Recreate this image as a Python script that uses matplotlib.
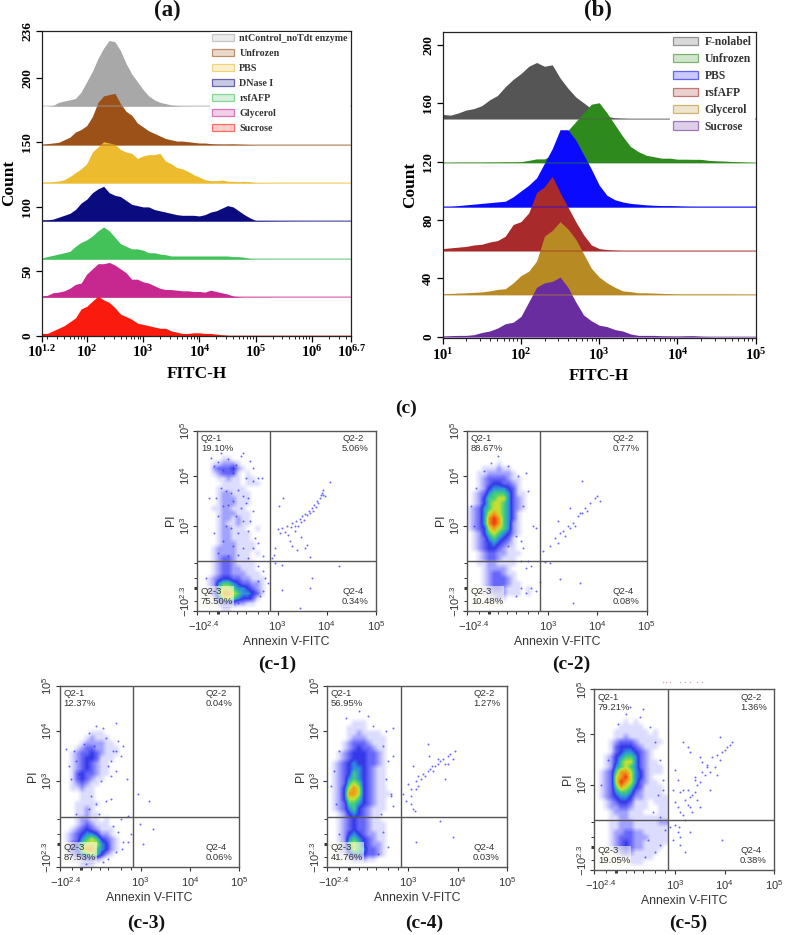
"""
Flow cytometry figure: FITC-H histograms (a, b) and Annexin V / PI quadrant plots (c-1 to c-5)
"""

import matplotlib
matplotlib.use('Agg')

import matplotlib.pyplot as plt
import numpy as np
from matplotlib.colors import LinearSegmentedColormap, to_rgba
from matplotlib.patches import Patch
from matplotlib.transforms import ScaledTranslation

plt.rcParams['mathtext.default'] = 'regular'
SERIF = 'Liberation Serif'
SANS = 'Liberation Sans'

# Panel (a) histograms, log10(FITC-H) bins and counts above each baseline
bins_a = [1.2, 1.3, 1.4, 1.5, 1.6, 1.7, 1.8, 1.9, 2.0, 2.1, 2.2, 2.3, 2.4, 2.5, 2.6, 2.7, 2.8, 2.9, 3.0, 3.1,
          3.2, 3.3, 3.4, 3.5, 3.6, 3.7, 3.8, 3.9, 4.0, 4.1, 4.2, 4.3, 4.4, 4.5, 4.6, 4.7, 4.8, 4.9, 5.0,
          5.5, 6.0, 6.7]
names_a = ['ntControl_noTdt enzyme', 'Unfrozen', 'PBS', 'DNase I', 'rsfAFP', 'Glycerol', 'Sucrose']
colors_a = ['#a8a8a8', '#9c5118', '#ecbc2e', '#0b0b80', '#43c25a', '#c6288f', '#fb1b0e']
baselines_a = [178, 148, 118.5, 89, 59.5, 30, 0]
control_a = [0, 0, .5, 3, 4, 5, 6, 11, 19, 27, 37, 45, 51, 50, 43, 33, 25, 19, 13, 8, 5, 3, 2, 1, .5, .3,
             .2, .2, .2, .2, .2, .2, .2, .2, .2, .2, .2, .2, .2, .2, .2, .2]
unfrozen_a = [.5, 1, 1.5, 2, 4, 6, 10, 12, 15, 22, 33, 38, 39, 40, 32, 26, 23, 17, 14, 11, 9, 7, 5, 4, 3, 3,
              2.5, 2, 1.5, 1.5, 1, .8, .7, .7, .8, .6, .5, .3, .2, .2, .2, .2]
pbs_a = [.5, .8, 1, 1.5, 2.5, 5, 8, 11, 15, 24, 28, 32, 31, 30, 26, 24, 23, 19, 21, 22, 22, 23, 17, 15, 12, 11,
         9, 6.5, 4.6, 2.6, 1.8, 1.8, 2.3, 1.5, 1.3, 1, 1.3, 1, .3, .2, .2, .2]
dnase_a = [1, 1, 1.5, 3, 4.5, 6, 9, 14, 17, 22, 25, 27, 22, 20, 19, 16, 13, 12, 11, 11, 9, 8, 7, 6, 5, 4.5,
           4.5, 4.5, 4, 5, 7, 8, 10, 12, 11, 8, 5, 2.5, .5, .3, .2, .2]
rsfafp_a = [1, 2, 3, 4, 5, 6, 10, 13, 15, 18, 22, 25, 22, 17, 12, 10, 8, 8, 7, 5, 5, 4, 3.5, 2.5, 2.5, 2.5,
            2.5, 2.5, 2.5, 2.5, 2.5, 2.5, 2.5, 2.5, 2, 2, 1.5, .5, .3, .2, .2, .2]
glycerol_a = [1, 1.5, 3.5, 4, 5, 7, 10, 11, 18, 22, 26, 26, 27, 25, 22, 19, 14, 14, 12, 11, 9, 7, 6, 6, 5.5, 5,
              5, 4.5, 4.5, 4, 5.5, 4.5, 3.5, 2.5, 1, .5, .3, .3, .3, .2, .2, .2]
sucrose_a = [2, 2, 4, 6, 8, 11, 14, 21, 23, 27, 31, 28, 26, 22, 17, 15, 13, 10, 9, 8, 7, 6, 6, 4, 3, 2,
             2, 2.5, 2.5, 2, 2, 1.5, 1, .5, .2, .2, 0, 0, 0, 0, 0, 0]
series_a = [control_a, unfrozen_a, pbs_a, dnase_a, rsfafp_a, glycerol_a, sucrose_a]

# Panel (b) histograms
bins_b = [1.0, 1.1, 1.2, 1.3, 1.4, 1.5, 1.6, 1.7, 1.8, 1.9, 2.0, 2.1, 2.2, 2.3, 2.4, 2.5, 2.6, 2.7, 2.8, 2.9,
          3.0, 3.1, 3.2, 3.3, 3.4, 3.5, 3.6, 3.7, 3.8, 3.9, 4.0, 4.1, 4.2, 4.3, 4.4, 4.5, 4.6, 4.7, 4.8, 4.9, 5.0]
names_b = ['F-nolabel', 'Unfrozen', 'PBS', 'rsfAFP', 'Glycerol', 'Sucrose']
colors_b = ['#555555', '#2f8a1e', '#0a0aff', '#a82a2a', '#b88a24', '#6a2d9f']
baselines_b = [149.5, 119.5, 89, 59, 29, 0]
nolabel_b = [3, 2.5, 4, 6, 7, 9, 13, 16, 22, 27, 31, 36, 38.6, 36, 37, 28, 21, 15, 11, 7, 4, 1.6, .7, .4, .2,
             .2, .2, .2, .2, .2, .2, .2, .2, .2, .2, .2, .2, .2, .2, .2, .2]
unfrozen_b = [.2, .2, .3, .3, .3, .3, .4, .4, .5, .5, .6, 1.5, 2.5, 2.5, 5, 12, 22, 28, 34, 40, 41, 34, 26, 18,
              11, 7.5, 5, 4, 3, 3, 2.3, 2.3, 2.2, 2.2, 1.5, 1.2, 1, .7, .5, .3, .1]
pbs_b = [.5, .5, 1, 1.5, 2, 2.5, 3, 3.5, 4, 7, 11, 15, 20, 30, 40, 53, 53, 46, 36, 26, 15, 8, 5, 3.5, 2.5, 2,
         1.5, 1.2, 1, 1, .8, .6, .5, .5, .5, .5, .5, .5, .5, .5, .5]
rsfafp_b = [1.5, 2, 2.5, 3, 4, 4.5, 6, 7, 10, 18, 20, 26, 40, 44, 51, 40, 30, 20, 11, 4, 1.5, .8, .5, .3, .3,
            .3, .3, .3, .3, .3, .3, .3, .3, .3, .3, .3, .3, .3, .3, .3, .3]
glycerol_b = [.5, .7, 1, 1.2, 1.5, 1.8, 2.5, 3.5, 4, 8, 13, 16, 23, 40, 44, 50, 45, 38, 28, 18, 12, 8, 5, 2.5,
              2, 1.2, 1.2, 1, .8, .6, .4, .4, .4, .4, .4, .4, .4, .4, .3, .3, .3]
sucrose_b = [.5, .8, 1, 1, 1.5, 3, 4, 6, 9, 10, 14, 24, 34, 37, 38, 41, 34, 24, 15, 11, 8, 7, 5, 4, 2, 1, 1, 1,
             .7, .6, .5, .7, .8, .4, .2, .1, .1, .1, .1, .1, .1]
series_b = [nolabel_b, unfrozen_b, pbs_b, rsfafp_b, glycerol_b, sucrose_b]

# Quadrant plots: percentages, cell-density rows (0-9, left of the vertical gate) and sparse events
percents_c1 = ['19.10%', '5.06%', '75.50%', '0.34%']
percents_c2 = ['88.67%', '0.77%', '10.48%', '0.08%']
percents_c3 = ['12.37%', '0.04%', '87.53%', '0.06%']
percents_c4 = ['56.95%', '1.27%', '41.76%', '0.03%']
percents_c5 = ['79.21%', '1.36%', '19.05%', '0.38%']

density_c1 = [
    '000000000000000', '000000000000000', '000000000000000', '000000000000000', '000000000000000',
    '000001100000000', '000112221000000', '000233342100000', '000123331010000', '000011211011000',
    '000001111011100', '000011111100000', '000012211110000', '000012221110000', '000012221110000',
    '000112211100000', '000012221110000', '000012212110000', '000012112110000', '000012211100100',
    '000012211110000', '000012211110000', '000012221111000', '000122221111000', '000122221110100',
    '000123321110000', '000123321111000', '000123322111000', '000123322211100', '001234433221110',
    '001256654332210', '001267765543210', '001368876554310', '000147765443100', '000023332211000',
    '000001100000000']
density_c2 = [
    '000000000000000', '000000000000000', '000000000000000', '000000000000000', '000000000000000',
    '000000000000000', '000000100000000', '000111211000000', '001122222100000', '001233332110000',
    '001234433210000', '001245554310000', '012356665311000', '012466775321000', '012467765321000',
    '123567765321000', '123578765310000', '123589865310000', '123589865210000', '123478765210000',
    '012467654210000', '012356543100000', '012345432100000', '012344321100000', '001233221110000',
    '001233211100000', '001122111100000', '000122221000000', '000123321100000', '000123332100000',
    '000123332110000', '000123321110100', '000112221110100', '000011210000000', '000000000000000',
    '000000000000000']
density_c3 = [
    '000000000000000', '000000000000000', '000000000000000', '000000000000000', '000000000000000',
    '000000000000000', '000000000000000', '000000000000000', '000000000000000', '000000111000000',
    '000001211100000', '000012222110000', '000123322111000', '001233432111000', '001234431110000',
    '001234321100000', '001234321100000', '001343321100000', '001343211000000', '001232110000000',
    '001121100000000', '000011100000000', '000011100000000', '000111110000000', '000112100000000',
    '000112110000000', '000122110100000', '000123211100000', '001234321110000', '012345542210000',
    '012356764321000', '013467775421000', '013478865421000', '012356764210000', '001123321000000',
    '000011100000000']
density_c4 = [
    '000000000000000', '000000000000000', '000000000000000', '000000000000000', '000000000000000',
    '000000000000000', '000000000000000', '000001110000000', '000011110000000', '000011211110000',
    '000012221111000', '000123332111000', '000123433211000', '001234443321000', '001234443321000',
    '012345443321000', '012345543211000', '012346543211000', '012356543211000', '012367643211000',
    '012478743211000', '012488743211100', '012477643211000', '012366543211000', '012356432111000',
    '001245432110000', '001234332110000', '001234332111000', '001234332111000', '001245432211000',
    '001256543211000', '001267643221000', '001257653321000', '001135543321000', '000012221100000',
    '000000000000000']
density_c5 = [
    '000000000000000', '000000000000000', '000000000000000', '000000000000000', '000000000000000',
    '000000000000000', '000000101000000', '000001111100000', '000011111110100', '000011211111100',
    '000123332111110', '000134443211100', '000134554321000', '001245665321000', '001246775321100',
    '001256765321110', '012368875421110', '012378975421000', '012379875321100', '012368764311110',
    '012356653211110', '012345542211111', '001234431110111', '001223321110011', '000122211100011',
    '000112211111111', '000112221111122', '000112221111111', '000122332211111', '000123332221111',
    '000123432211111', '000123432211110', '000012321111100', '000001111111000', '000000011100000',
    '000000000000000']

events_x_c1 = [3.0, 3.05, 3.1, 3.15, 3.2, 3.22, 3.28, 3.3, 3.35, 3.38, 3.42, 3.45, 3.48, 3.5, 3.53, 3.56, 3.6, 3.63,
               3.66, 3.7, 3.72, 3.75, 3.78, 3.8, 3.83, 3.86, 3.88, 3.9, 3.92, 3.93, 4.06, 3.96, 2.95, 3.3, 3.4, 3.55,
               3.65, 2.93, 2.88, 2.95, 3.1, 3.7, 3.65, 3.45, 4.25, 3.1, 3.02, 3.12, 3.36, 3.25, 3.48, 3.6, 2.68, 2.5, 1.85,
               1.65, 1.7, 1.8, 1.9, 2.0, 2.1, 2.15, 2.25, 2.3, 2.45, 2.5, 2.6, 2.35,
               1.85, 1.95, 2.05, 2.2, 2.3, 1.75, 2.1, 2.4, 1.6, 1.9, 2.0, 2.25, 2.35, 2.5, 1.8, 2.15, 2.3, 2.45, 1.95, 2.05,
               2.2, 2.4, 2.55, 2.6, 1.7, 1.9, 2.1, 2.3, 2.5, 1.8, 2.0, 2.2, 2.4, 2.7, 2.6, 2.7, 2.75, 2.6, 2.5, 2.7, 2.45,
               2.2, 2.65, 2.8, 1.55, 1.6]
events_y_c1 = [2.93, 2.85, 2.95, 2.88, 3.0, 2.82, 2.97, 3.05, 2.9, 3.1, 3.0, 3.14, 3.08, 3.2, 3.12, 3.24, 3.22, 3.3,
               3.26, 3.35, 3.3, 3.42, 3.38, 3.5, 3.46, 3.55, 3.62, 3.66, 3.72, 3.62, 3.87, 3.6, 2.55, 2.6, 2.52, 2.55,
               2.37, 2.42, 2.36, 2.25, 2.22, 1.95, 1.75, 1.35, 2.2, 1.72, 3.4, 3.55, 3.0, 2.7, 2.78, 2.62, 3.95, 4.15, 4.45,
               4.35, 4.2, 4.28, 4.12, 4.33, 4.05, 4.22, 4.4, 4.45, 4.3, 3.9, 3.95, 3.95,
               3.75, 3.7, 3.65, 3.72, 3.6, 3.55, 3.5, 3.55, 3.55, 3.4, 3.42, 3.35, 3.45, 3.3, 3.2, 3.2, 3.1, 3.1, 3.0, 2.95,
               2.85, 2.9, 2.75, 2.65, 2.85, 2.7, 2.6, 2.55, 2.55, 2.45, 2.4, 2.42, 2.35, 2.4, 2.2, 2.1, 1.95, 1.9, 1.7, 1.7,
               1.55, 1.45, 1.6, 1.85, 1.95, 1.7]
events_x_c2 = [3.05, 3.15, 3.2, 3.25, 3.3, 3.35, 3.4, 3.45, 3.5, 3.55, 3.6, 3.65, 3.7, 3.75, 3.8, 3.85, 3.95, 4.0,
               4.05, 3.7, 3.45, 3.2, 2.7, 2.6, 2.75, 2.9, 2.5, 2.95, 3.05, 3.25, 3.65, 3.5, 2.85, 2.65, 2.45,
               1.45, 1.5, 1.55, 1.7, 1.85, 2.0, 2.2, 2.4, 2.55, 2.6, 2.5, 2.35, 2.45, 2.2, 2.55, 2.65, 2.45, 2.55, 2.35, 2.75]
events_y_c2 = [2.6, 2.75, 2.65, 2.85, 2.9, 2.8, 3.0, 2.95, 3.05, 3.0, 3.2, 3.25, 3.25, 3.35, 3.3, 3.45, 3.55, 3.6,
               3.5, 3.9, 3.35, 3.1, 3.0, 2.3, 2.95, 2.5, 2.55, 2.28, 2.25, 1.93, 1.85, 1.45, 1.88, 1.75, 2.3,
               3.4, 3.0, 3.75, 4.1, 4.25, 4.4, 4.2, 4.0, 4.05, 3.7, 3.4, 2.8, 2.7, 2.6, 2.15, 2.2, 1.75, 1.65, 1.6, 1.7]
events_x_c3 = [2.72, 2.95, 3.18, 2.98, 3.25, 3.05, 2.8, 2.6, 2.75, 2.65, 2.5, 2.4,
               2.1, 2.25, 2.5, 1.95, 2.3, 2.55, 2.65, 1.5, 1.65, 1.85, 2.05, 2.45, 2.6, 1.55, 1.7, 2.35, 2.5, 1.6, 1.75, 2.2,
               2.4, 2.0, 2.1, 1.95, 2.3, 2.4, 1.7, 2.15, 2.45, 2.55, 2.62, 2.75, 2.5, 2.35, 2.25, 1.9]
events_y_c3 = [3.05, 2.75, 2.6, 2.15, 2.05, 1.75, 1.95, 2.25, 2.3, 1.8, 3.6, 3.4,
               4.1, 4.05, 4.15, 3.95, 3.85, 3.8, 3.7, 3.65, 3.6, 3.75, 3.7, 3.6, 3.5, 3.3, 3.4, 3.3, 3.2, 3.05, 3.15, 3.0,
               3.1, 2.7, 2.55, 2.45, 2.6, 2.65, 2.35, 2.35, 2.1, 2.0, 1.65, 1.8, 1.6, 1.45, 1.4, 1.35]
events_x_c4 = [3.4, 3.1, 3.15, 3.2, 3.25, 3.3, 3.35, 3.4, 3.45, 3.5, 3.55, 3.6, 3.65, 3.7, 3.75, 3.8, 3.85, 3.9, 3.95,
               3.0, 3.05, 2.9, 2.95, 3.05, 3.1, 3.15, 3.2, 3.75, 3.8, 3.6, 3.42, 3.48, 3.13, 3.15, 3.9, 3.05, 3.65, 2.7, 2.65,
               1.5, 1.45, 1.6, 1.75, 2.0, 2.2, 2.55, 2.5, 2.6, 2.55, 2.65, 2.7, 2.45, 2.5, 2.6, 2.4, 1.6, 2.3, 1.55, 2.7]
events_y_c4 = [3.75, 3.3, 3.0, 3.1, 3.05, 3.15, 3.1, 3.2, 3.25, 3.2, 3.3, 3.35, 3.4, 3.45, 3.35, 3.5, 3.55, 3.45, 3.6,
               2.95, 2.7, 2.75, 2.6, 2.55, 2.45, 2.85, 2.9, 3.05, 3.35, 3.45, 3.5, 3.3, 2.4, 1.8, 1.9, 2.85, 2.2, 3.5, 2.75,
               3.2, 2.9, 3.6, 4.25, 4.4, 4.3, 4.0, 3.7, 3.4, 3.05, 2.7, 2.5, 2.35, 2.0, 1.7, 1.55, 1.95, 4.1, 2.55, 4.05]
events_x_c5 = [3.0, 3.05, 3.1, 3.15, 3.2, 3.25, 3.3, 3.35, 3.4, 3.45, 3.5, 3.55, 3.6, 3.65, 3.7, 3.75, 3.8, 3.85, 3.9,
               3.95, 4.0, 4.05, 4.1, 4.15, 2.95, 3.0, 3.05, 3.1, 3.15, 3.2, 3.25, 3.3, 3.35, 3.4, 3.45, 3.3, 3.4, 3.5,
               3.55, 3.65, 3.85, 3.15, 3.25, 3.9, 3.0, 2.95, 3.05, 3.1, 2.9, 3.3, 3.5, 3.95, 3.2, 3.1, 3.08, 3.7,
               1.5, 1.65, 1.85, 2.0, 2.1, 2.3, 2.5, 2.6, 2.7, 2.75, 2.65, 2.55, 2.7, 2.8, 2.45, 2.6, 2.7, 2.4, 2.35, 2.75]
events_y_c5 = [2.65, 2.55, 2.85, 2.4, 2.7, 2.9, 2.55, 2.8, 3.15, 3.0, 3.05, 3.45, 3.2, 3.4, 3.25, 3.55, 3.35, 3.6, 3.5,
               3.65, 3.7, 3.75, 3.8, 3.85, 2.9, 3.3, 3.1, 2.45, 2.9, 2.3, 2.6, 2.75, 2.45, 2.85, 2.7, 3.65, 3.1, 3.55,
               3.25, 3.35, 3.2, 3.85, 3.75, 3.95, 2.2, 1.9, 2.05, 1.95, 2.15, 2.05, 2.55, 1.9, 1.65, 1.8, 2.15, 2.9,
               3.0, 3.5, 4.2, 4.4, 4.55, 4.35, 4.15, 3.85, 3.5, 3.1, 2.8, 2.45, 2.35, 2.1, 1.9, 1.65, 1.8, 1.55, 4.5, 2.9]
specks_x_c5 = [2.75, 2.82, 2.9, 3.1, 3.2, 3.3, 3.45, 3.55]
specks_y_c5 = [5.05, 5.05, 5.05, 5.05, 5.05, 5.05, 5.05, 5.05]

# Axis ticks of the quadrant plots, in decades
major_x_c = [1.37, 3, 4, 5]
major_x_labels_c = ['$-10^{2.4}$', '$10^{3}$', '$10^{4}$', '$10^{5}$']
minor_x_c = [1.61, 1.78, 1.8, 1.82, 2.0, 2.18, 2.35, 2.6, 2.8]
major_y_c = [1.3, 3, 4, 4.9]
major_y_labels_c = ['$-10^{2.3}$', '$10^{3}$', '$10^{4}$', '$10^{5}$']
minor_y_c = [1.5, 1.73, 1.75, 1.77, 1.95, 2.25]

W, H = 787, 935
fig = plt.figure(figsize=(W / 100, H / 100), dpi=100, facecolor='white')


def px_axes(left, top, right, bottom):
    return fig.add_axes([left / W, 1 - bottom / H, (right - left) / W, (bottom - top) / H])


def px_text(x, y, s, size=14, family=SERIF, weight='bold', color='#111111', **kw):
    fig.text(x / W, 1 - y / H, s, fontsize=size, family=family, weight=weight, color=color,
             ha='center', va='center', **kw)


def hist_panel(ax, bins, series, baselines, colors, names, xlim, ylim, xticks, xlabels, yticks, ylabels, legend_size, legend_gap):
    # top curve first, the lower ones sit in front of it
    for vals, base, col in zip(series, baselines, colors):
        b = np.array(vals) + base
        ax.fill_between(bins, base, b, color=col, linewidth=0)
        ax.plot(bins, np.full(len(bins), base), color=col, lw=1.1, alpha=0.45)
    ax.set_xlim(xlim)
    ax.set_ylim(ylim)
    ax.set_xticks(xticks)
    ax.set_xticklabels(xlabels, fontsize=10.5, family=SERIF, weight='bold')
    ax.set_yticks(yticks)
    ax.set_yticklabels(ylabels, fontsize=9.5, family=SERIF, weight='bold', rotation=90, va='center')
    minors = []
    for k in range(1, 7):
        minors += [k + np.log10(m) for m in range(2, 10)]
    ax.set_xticks([m for m in minors if xlim[0] < m < xlim[1]], minor=True)
    ax.tick_params(axis='both', which='major', length=4, width=0.9, pad=2)
    ax.tick_params(axis='both', which='minor', length=2, width=0.6)
    ax.set_xlabel('FITC-H', fontsize=12.4, family=SERIF, weight='bold', labelpad=4)
    ax.set_ylabel('Count', fontsize=12.4, family=SERIF, weight='bold', labelpad=3)
    for sp in ax.spines.values():
        sp.set_linewidth(0.9)
        sp.set_color('#222222')
    handles = [Patch(facecolor=to_rgba(c, 0.22), edgecolor=to_rgba(c, 0.6), linewidth=0.9) for c in colors]
    leg = ax.legend(handles, names, loc='upper right', bbox_to_anchor=(1, 1), borderaxespad=0.1, framealpha=1,
                    edgecolor='none', prop={'family': SERIF, 'weight': 'bold', 'size': legend_size}, handlelength=2.15,
                    handleheight=0.7, labelspacing=legend_gap, handletextpad=0.55, borderpad=0.25)
    for t in leg.get_texts():
        t.set_color('#333333')


def shift_label(label, dx, dy):
    label.set_transform(label.get_transform() + ScaledTranslation(dx / 72, dy / 72, fig.dpi_scale_trans))


def quad_panel(box, density, events_x, events_y, percents):
    ax = px_axes(*box)
    xmin, xmax, ymin, ymax, gate_x, gate_y = 1.37, 5.0, 1.3, 4.9, 2.85, 2.29
    grid = np.array([[int(c) for c in row] for row in density])
    ax.imshow(grid, cmap=flow_cmap, vmin=0, vmax=9, extent=(xmin, gate_x, ymin, ymax), aspect='auto',
              interpolation='bilinear', zorder=1)
    ax.scatter(events_x, events_y, s=2, color='#2a2aff', alpha=0.7, linewidths=0, zorder=2)
    ax.axvline(gate_x, color='#555555', lw=1, zorder=3)
    ax.axhline(gate_y, color='#555555', lw=1, zorder=3)
    ax.set_xlim(xmin, xmax)
    ax.set_ylim(ymin, ymax)
    ax.set_xticks(major_x_c)
    ax.set_xticklabels(major_x_labels_c, fontsize=8, family=SANS, color='#333333')
    ax.set_yticks(major_y_c)
    ax.set_yticklabels(major_y_labels_c, fontsize=8, family=SANS, color='#333333', rotation=90, va='center')
    ax.set_xticks(minor_x_c, minor=True)
    ax.set_yticks(minor_y_c, minor=True)
    ax.tick_params(axis='both', which='major', length=3, width=0.8, color='#333333', pad=3)
    ax.tick_params(axis='y', which='major', pad=1)
    ax.tick_params(axis='both', which='minor', length=2, width=0.7, color='#333333')
    shift_label(ax.get_xticklabels()[0], 4.5, 0)
    shift_label(ax.get_yticklabels()[0], 0, 7)
    ax.set_xlabel('Annexin V-FITC', fontsize=8.8, family=SANS, color='#333333', labelpad=2)
    ax.set_ylabel('PI', fontsize=8.8, family=SANS, color='#333333', labelpad=1)
    for sp in ax.spines.values():
        sp.set_linewidth(1)
        sp.set_color('#555555')
    # quadrant captions: name and percentage
    txt = dict(fontsize=6.8, family=SANS, color='#333333', transform=ax.transAxes, linespacing=1.15, zorder=5)
    ax.text(0.02, 0.98, 'Q2-1\n' + percents[0], ha='left', va='top', **txt)
    ax.text(0.81, 0.98, 'Q2-2\n' + percents[1], ha='left', va='top', **txt)
    ax.text(0.02, 0.025, 'Q2-3\n' + percents[2], ha='left', va='bottom',
            bbox=dict(facecolor='#fbfbee', edgecolor='none', alpha=0.6, pad=0.6), **txt)
    ax.text(0.81, 0.025, 'Q2-4\n' + percents[3], ha='left', va='bottom', **txt)
    return ax


# low levels stay pale: the clouds are single dots on white at that density
flow_cmap = LinearSegmentedColormap.from_list(
    'flow', ['#ffffff', '#dcdcff', '#a0a0ff', '#6666f8', '#3438e8', '#2f90e0', '#3fd07a', '#c8e030', '#f09a1a', '#ee3a10'])

# (a)
ax_a = px_axes(41.7, 30.7, 351.3, 336)
hist_panel(ax_a, bins_a, series_a, baselines_a, colors_a, names_a, (1.2, 6.7), (0, 236.5),
           [1.2, 2, 3, 4, 5, 6, 6.7],
           ['$10^{1.2}$', '$10^{2}$', '$10^{3}$', '$10^{4}$', '$10^{5}$', '$10^{6}$', '$10^{6.7}$'],
           [0, 50, 100, 150, 200, 236], ['0', '50', '100', '150', '200', '236'], 7.2, 0.6)

# (b)
ax_b = px_axes(442.7, 32, 755.7, 338.3)
hist_panel(ax_b, bins_b, series_b, baselines_b, colors_b, names_b, (1, 5), (-1, 209),
           [1, 2, 3, 4, 5], ['$10^{1}$', '$10^{2}$', '$10^{3}$', '$10^{4}$', '$10^{5}$'],
           [0, 40, 80, 120, 160, 200], ['0', '40', '80', '120', '160', '200'], 8.4, 0.42)

# (c)
quad_panel((197.3, 430.7, 376, 610.7), density_c1, events_x_c1, events_y_c1, percents_c1)
quad_panel((467.3, 430.7, 646.7, 610.7), density_c2, events_x_c2, events_y_c2, percents_c2)
quad_panel((60, 685.7, 239.3, 866.7), density_c3, events_x_c3, events_y_c3, percents_c3)
quad_panel((327.3, 685.7, 507.3, 866.7), density_c4, events_x_c4, events_y_c4, percents_c4)
ax_c5 = quad_panel((594.3, 689.3, 774.3, 870), density_c5, events_x_c5, events_y_c5, percents_c5)
ax_c5.scatter(specks_x_c5, specks_y_c5, s=1.2, color='#b06070', alpha=0.5, linewidths=0, clip_on=False)

px_text(167, 10, '(a)', size=16.5)
px_text(598, 10, '(b)', size=16.5)
px_text(406, 408, '(c)', size=14)
px_text(277, 664, '(c-1)', size=14)
px_text(571, 664, '(c-2)', size=14)
px_text(146, 923, '(c-3)', size=14)
px_text(424, 923, '(c-4)', size=14)
px_text(688, 923, '(c-5)', size=14)

fig.savefig('out.png', dpi=100)
plt.close(fig)
